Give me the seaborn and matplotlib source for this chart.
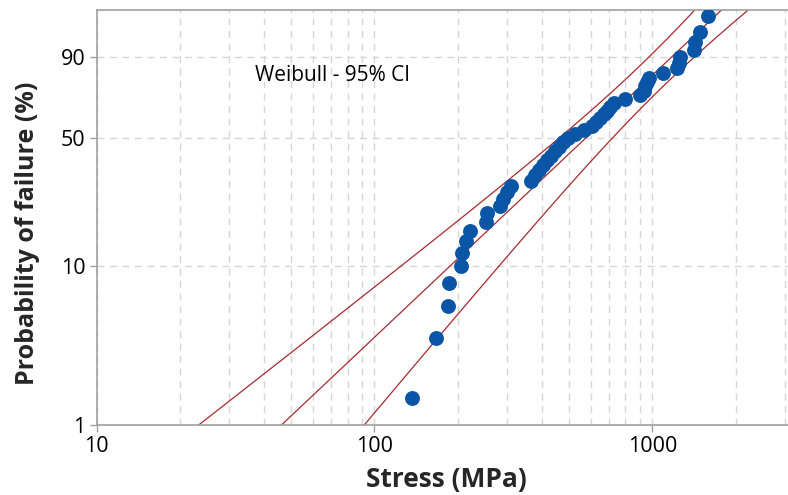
import numpy as np
import pandas as pd
import matplotlib
matplotlib.use("Agg")
import matplotlib.pyplot as plt
from matplotlib.ticker import FixedLocator, FixedFormatter, LogLocator, NullFormatter
import seaborn as sns

# Fracture stress of each specimen (MPa), sorted
stress_mpa = [136, 166, 184, 186, 204, 207, 214, 221, 253, 254,
              282, 290, 299, 309, 365, 377, 390, 403, 417, 431,
              445, 460, 476, 496, 526, 566, 605, 625, 646, 668,
              685, 702, 726, 795, 900, 931, 942, 954, 970, 1089,
              1223, 1243, 1259, 1408, 1420, 1480, 1588]

# Fitted two-parameter Weibull distribution and its parameter (co)variances
weibull_shape = 1.68
weibull_scale = 715.0
var_ln_scale = 0.01035
var_inv_shape = 0.004235
cov_ln_scale_inv_shape = -0.00245
z_95 = 1.96

# Axis ticks
y_ticks = [1, 10, 50, 90]
x_ticks = [10, 100, 1000]

BLUE = "#0a55a5"
RED = "#a82a2e"
GRID = "#d6d6d6"
SPINE = "#a0a0a0"

sns.set_theme(style="white")
plt.rcParams["font.family"] = ["Open Sans", "DejaVu Sans"]

# Median-rank (Bernard) plotting positions
n = len(stress_mpa)
rank = np.arange(1, n + 1)
points = pd.DataFrame({
    "stress": np.sort(stress_mpa),
    "failure": 100.0 * (rank - 0.3) / (n + 0.4),
})

# Fit line with 95% confidence bounds on the stress at each probability
pct = np.linspace(0.2, 99.95, 600)
w = np.log(-np.log(1.0 - pct / 100.0))
ln_x = np.log(weibull_scale) + w / weibull_shape
half = z_95 * np.sqrt(var_ln_scale + w ** 2 * var_inv_shape
                      + 2.0 * w * cov_ln_scale_inv_shape)
lines = pd.concat([
    pd.DataFrame({"stress": np.exp(ln_x - half), "failure": pct, "curve": "lower"}),
    pd.DataFrame({"stress": np.exp(ln_x), "failure": pct, "curve": "fit"}),
    pd.DataFrame({"stress": np.exp(ln_x + half), "failure": pct, "curve": "upper"}),
])

fig = plt.figure(figsize=(7.88, 4.95), dpi=100)
ax = fig.add_axes([96.7 / 788, 70 / 495, (788 - 96.7) / 788, 415 / 495])

def to_weibull(p):
    p = np.clip(np.asarray(p, dtype=float), 1e-6, 100 - 1e-6)
    return np.log(-np.log(1.0 - p / 100.0))

def from_weibull(v):
    return 100.0 * (1.0 - np.exp(-np.exp(v)))

ax.set_xscale("log")
ax.set_yscale("function", functions=(to_weibull, from_weibull))

sns.lineplot(data=lines, x="stress", y="failure", units="curve",
             estimator=None, sort=False, color=RED, linewidth=0.9, ax=ax,
             zorder=2)
sns.scatterplot(data=points, x="stress", y="failure", color=BLUE, s=115,
                linewidth=0, ax=ax, zorder=3)

ax.set_xlim(10, 3080)
ax.set_ylim(1, 99)

ax.xaxis.set_major_locator(FixedLocator(x_ticks))
ax.xaxis.set_major_formatter(FixedFormatter([str(t) for t in x_ticks]))
ax.xaxis.set_minor_locator(LogLocator(base=10, subs=np.arange(2, 10)))
ax.xaxis.set_minor_formatter(NullFormatter())
ax.yaxis.set_major_locator(FixedLocator(y_ticks))
ax.yaxis.set_major_formatter(FixedFormatter([str(t) for t in y_ticks]))
ax.yaxis.set_minor_locator(FixedLocator([]))

ax.grid(True, which="both", axis="x", color=GRID, linestyle=(0, (5, 4)), linewidth=1)
ax.grid(True, which="major", axis="y", color=GRID, linestyle=(0, (5, 4)), linewidth=1)
ax.set_axisbelow(True)

ax.tick_params(axis="both", which="major", direction="out", length=5, width=1,
               color=SPINE, labelsize=15.5, labelcolor="black", pad=3,
               bottom=True, left=True)
ax.tick_params(axis="both", which="minor", length=0)

for side in ["left", "bottom", "top"]:
    ax.spines[side].set_color(SPINE)
    ax.spines[side].set_linewidth(1.2)
ax.spines["right"].set_visible(False)

ax.set_xlabel("Stress (MPa)", fontsize=19, fontweight="bold")
ax.set_ylabel("Probability of failure (%)", fontsize=18, fontweight="bold")
ax.xaxis.set_label_coords(0.5 + 4 / 691.3, -0.098)
ax.yaxis.set_label_coords(-0.082, 0.5 - 16 / 415)

ax.text(0.229, 0.843, "Weibull - 95% CI", transform=ax.transAxes,
        fontsize=15, color="black", va="center", ha="left")

fig.savefig("out.png", dpi=100)
